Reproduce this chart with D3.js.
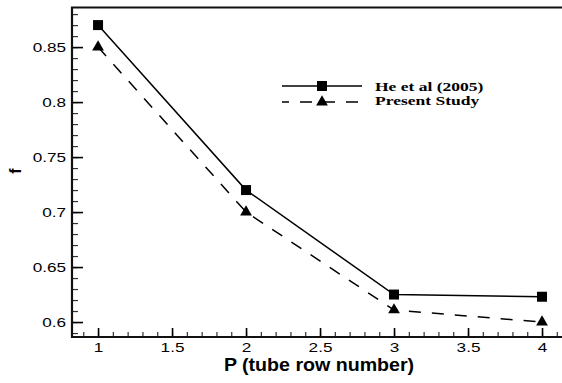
<!DOCTYPE html>
<html lang="en">
<head>
<meta charset="UTF-8">
<title>f vs P</title>
<script src="https://d3js.org/d3.v7.min.js"></script>
<style>
    body { margin: 0; background: #fff; }
    .tick text { font-family: "Liberation Sans", Arial, sans-serif; font-size: 13.5px; fill: #000; }
    .lab { font-family: "Liberation Sans", Arial, sans-serif; font-weight: bold; }
    .leg { font-family: "Liberation Serif", "Times New Roman", serif; font-weight: bold; font-size: 12.5px; }
</style>
</head>
<body>
<svg width="562" height="383"></svg>
<script>
    // data
    const rows = [1, 2, 3, 4];
    const heEtAl = [0.870, 0.720, 0.625, 0.623];
    const present = [0.850, 0.700, 0.611, 0.600];
    const seriesNames = ["He et al (2005)", "Present Study"];
    const xTicks = [1, 1.5, 2, 2.5, 3, 3.5, 4];
    const yTicks = [0.6, 0.65, 0.7, 0.75, 0.8, 0.85];

    const svg = d3.select("svg");
    const pL = 72, pR = 562, pT = 7.5, pB = 337;

    const x = d3.scaleLinear().domain([0.824, 4.135]).range([pL, pR]);
    const y = d3.scaleLinear().domain([0.5864, 0.886]).range([pB, pT]);

    // stretch text a bit wider, the original is squashed that way
    function stretch(sel, k) {
        sel.each(function () {
            const w = this.getComputedTextLength();
            d3.select(this).attr("textLength", w * k).attr("lengthAdjust", "spacingAndGlyphs");
        });
    }

    // minor ticks
    const xMinor = d3.range(9, 42).map(d => d / 10);
    const yMinor = d3.range(59, 89).map(d => d / 100);
    svg.append("g").attr("transform", `translate(0,${pB})`)
        .call(d3.axisBottom(x).tickValues(xMinor).tickSize(-5).tickFormat(""))
        .call(g => g.select(".domain").remove())
        .selectAll("line").attr("stroke", "#333").attr("stroke-width", 1.2);
    svg.append("g").attr("transform", `translate(${pL},0)`)
        .call(d3.axisLeft(y).tickValues(yMinor).tickSize(-6).tickFormat(""))
        .call(g => g.select(".domain").remove())
        .selectAll("line").attr("stroke", "#333").attr("stroke-width", 1.2);

    // major ticks
    const fmt = d => String(+d.toFixed(2));
    const gx = svg.append("g").attr("transform", `translate(0,${pB})`)
        .call(d3.axisBottom(x).tickValues(xTicks).tickSize(-9).tickPadding(5).tickFormat(fmt))
        .call(g => g.select(".domain").remove());
    gx.selectAll("line").attr("stroke", "#000").attr("stroke-width", 1.6);
    const gy = svg.append("g").attr("transform", `translate(${pL},0)`)
        .call(d3.axisLeft(y).tickValues(yTicks).tickSize(-11).tickPadding(6).tickFormat(fmt))
        .call(g => g.select(".domain").remove());
    gy.selectAll("line").attr("stroke", "#000").attr("stroke-width", 1.6);
    stretch(gx.selectAll("text"), 1.27);
    stretch(gy.selectAll("text"), 1.27);

    // frame: left, bottom, top
    const frame = svg.append("g").attr("stroke", "#111").attr("stroke-width", 2.2).attr("fill", "none");
    frame.append("path").attr("d", `M${pR},${pT}H${pL}V${pB}H${pR}`);

    // series
    const line = d3.line().x((d, i) => x(rows[i])).y(d => y(d));
    svg.append("path").datum(heEtAl).attr("d", line)
        .attr("fill", "none").attr("stroke", "#000").attr("stroke-width", 1.5);
    svg.append("path").datum(present).attr("d", line)
        .attr("fill", "none").attr("stroke", "#000").attr("stroke-width", 1.5)
        .attr("stroke-dasharray", "12,11");

    const sq = d3.symbol().type(d3.symbolSquare).size(100);
    const tri = d3.symbol().type(d3.symbolTriangle).size(60);
    svg.selectAll(".sq").data(heEtAl).join("path").attr("class", "sq")
        .attr("d", sq).attr("transform", (d, i) => `translate(${x(rows[i])},${y(d)})`);
    svg.selectAll(".tri").data(present).join("path").attr("class", "tri")
        .attr("d", tri).attr("transform", (d, i) => `translate(${x(rows[i])},${y(d)})`);

    // legend
    const lg = svg.append("g");
    const ly = [86, 102];
    lg.append("line").attr("x1", 282).attr("x2", 362).attr("y1", ly[0]).attr("y2", ly[0])
        .attr("stroke", "#000").attr("stroke-width", 1.5);
    lg.append("line").attr("x1", 282).attr("x2", 362).attr("y1", ly[1]).attr("y2", ly[1])
        .attr("stroke", "#000").attr("stroke-width", 1.5)
        .attr("stroke-dasharray", "12,11").attr("stroke-dashoffset", 5);
    lg.append("path").attr("d", sq).attr("transform", `translate(322,${ly[0]})`);
    lg.append("path").attr("d", tri).attr("transform", `translate(322,${ly[1]})`);
    const lt = lg.selectAll("text").data(seriesNames).join("text").attr("class", "leg")
        .attr("x", 375).attr("y", (d, i) => [90.5, 104.5][i]).text(d => d);
    stretch(lt, 1.4);

    // axis titles
    const xl = svg.append("text").attr("class", "lab").attr("x", 319).attr("y", 371)
        .attr("text-anchor", "middle").attr("font-size", 17.5).text("P (tube row number)");
    stretch(xl, 1.12);
    svg.append("text").attr("class", "lab").attr("font-size", 16)
        .attr("transform", "translate(21,171) rotate(-90)")
        .attr("text-anchor", "middle").text("f");
</script>
</body>
</html>
